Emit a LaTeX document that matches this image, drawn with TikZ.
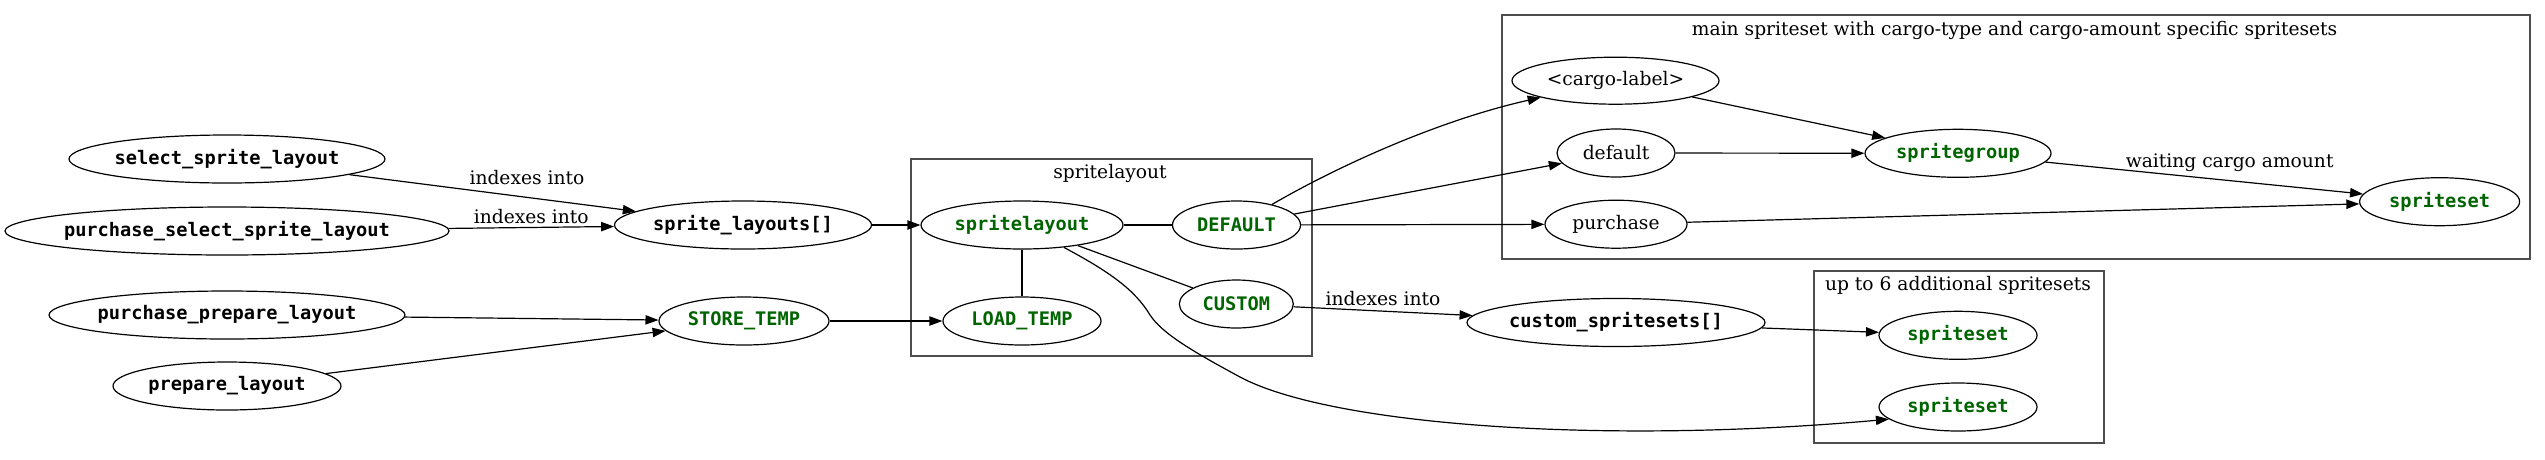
\documentclass[tikz,border=0pt]{standalone}
\usepackage{fontspec}
\setmainfont{DejaVu Serif}
\newfontfamily\monofam{DejaVu Sans Mono}
\usetikzlibrary{shapes.geometric,arrows.meta}
\definecolor{dkgreen}{RGB}{0,100,0}
\definecolor{clgray}{RGB}{77,77,77}
\begin{document}
\begin{tikzpicture}[x=1pt,y=-1pt,
  stxt/.style={font=\fontsize{18.67}{22}\selectfont, inner sep=0pt},
  mtxt/.style={font=\monofam\bfseries\fontsize{18.67}{22}\selectfont},
  gtxt/.style={mtxt, text=dkgreen},
  ell/.style 2 args={ellipse, draw, line width=1.2pt, inner sep=0pt, inner xsep=-8pt,
                     minimum width=#1pt, minimum height=#2pt},
  arr/.style={-{Triangle[length=13pt,width=9.3pt]}, line width=1.2pt},
  ln/.style={line width=1.2pt},
  lbl/.style={stxt},
  clus/.style={draw=clgray, line width=2pt, rectangle, inner sep=0pt}]
\useasboundingbox (0,0) rectangle (2545,459);

% clusters
\node[clus, minimum width=401pt, minimum height=197pt] (c1) at (1111,257.6) {};
\node[stxt] (c1t) at (1110,173.3) {spritelayout};
\node[clus, minimum width=1028pt, minimum height=244pt] (c2) at (2015.7,137.2) {};
\node[stxt] (c2t) at (2014.6,30.7) {main spriteset with cargo-type and cargo-amount specific spritesets};
\node[clus, minimum width=290pt, minimum height=172pt] (c3) at (1958.9,356.5) {};
\node[stxt] (c3t) at (1958,285) {up to 6 additional spritesets};

% nodes
\node[ell={316}{48}, mtxt] (ssl) at (227,159) {select\_sprite\_layout};
\node[ell={444}{48}, mtxt] (pssl) at (227,231) {purchase\_select\_sprite\_layout};
\node[ell={356}{48}, mtxt] (ppl) at (227,315) {purchase\_prepare\_layout};
\node[ell={228}{48}, mtxt] (pl) at (227,386) {prepare\_layout};
\node[ell={257}{48}, mtxt] (spl) at (743,225) {sprite\_layouts[]};
\node[ell={170}{48}, gtxt] (st) at (744,321) {STORE\_TEMP};
\node[ell={202}{48}, gtxt] (sl) at (1022,225) {spritelayout};
\node[ell={128}{48}, gtxt] (def) at (1236.5,225) {DEFAULT};
\node[ell={114}{48}, gtxt] (cus) at (1236.3,304) {CUSTOM};
\node[ell={158}{48}, gtxt] (lt) at (1022,321) {LOAD\_TEMP};
\node[ell={207}{47}, stxt] (cl) at (1615.5,80.7) {<cargo-label>};
\node[ell={118}{48}, stxt] (dflt) at (1616,153) {default};
\node[ell={142}{48}, stxt] (pur) at (1616,224.2) {purchase};
\node[ell={186}{48}, gtxt] (sg) at (1958,153.3) {spritegroup};
\node[ell={160}{48}, gtxt] (ss) at (2439.6,201.7) {spriteset};
\node[ell={298}{48}, mtxt] (cs) at (1616,322.5) {custom\_spritesets[]};
\node[ell={158}{48}, gtxt] (ss1) at (1958,335.3) {spriteset};
\node[ell={158}{48}, gtxt] (ss2) at (1958,407) {spriteset};

% edges
\draw[arr] (ssl) -- node[lbl, pos=0.62, yshift=19.6pt] {indexes into} (spl);
\draw[arr] (pssl) -- node[lbl, pos=0.5, yshift=10.7pt] {indexes into} (spl);
\draw[arr] (spl) -- (sl);
\draw[arr] (ppl) -- (st);
\draw[arr] (pl) -- (st);
\draw[arr] (st) -- (lt);
\draw[ln] (sl) -- (def);
\draw[ln] (sl) -- (lt);
\draw[ln] (sl) -- (cus);
\draw[arr] (sl) .. controls (1110,272) and (1135,290) .. (1150,315)
               .. controls (1162,333) and (1190,350) .. (1240,377)
               .. controls (1330,425) and (1600,445) .. (ss2.190);
\draw[arr] (def) .. controls (1340,165) and (1440,120) .. (cl);
\draw[arr] (def) -- (dflt);
\draw[arr] (def) -- (pur);
\draw[arr] (cus) -- node[lbl, pos=0.5, yshift=13pt] {indexes into} (cs);
\draw[arr] (cs) -- (ss1);
\draw[arr] (cl) -- (sg);
\draw[arr] (dflt) -- (sg);
\draw[arr] (sg) -- node[lbl, pos=0.58, yshift=17.8pt] {waiting cargo amount} (ss);
\draw[arr] (pur) -- (ss);
\end{tikzpicture}
\end{document}
